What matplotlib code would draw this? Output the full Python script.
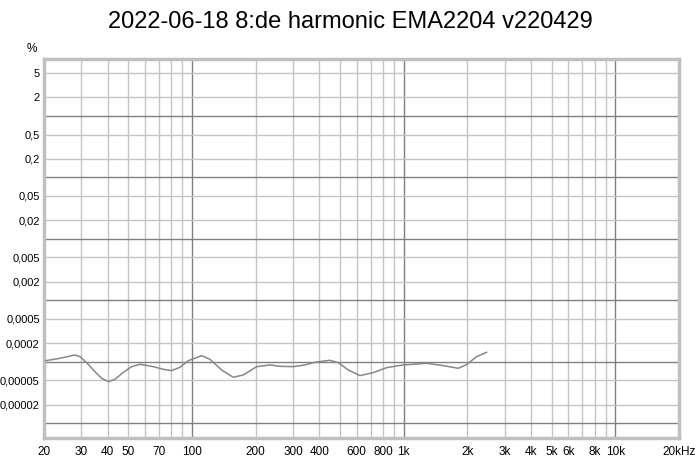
import numpy as np
import matplotlib
matplotlib.use("Agg")
import matplotlib.pyplot as plt

plt.rcParams['font.family'] = ['Liberation Sans', 'DejaVu Sans']

title = "2022-06-18 8:de harmonic EMA2204 v220429"

# curve: frequency (Hz) and distortion (%)
freq = [20.4, 23.8, 28.0, 29.6, 31.8, 34.8, 37.4, 40.3, 43.3, 47.4,
        51.9, 56.8, 65.7, 73.2, 80.2, 87.8, 96.1, 111.1, 121.6, 138.1,
        156.8, 174.8, 202.1, 233.6, 260.4, 301.1, 335.7, 388.0, 448.6, 491.1,
        547.6, 621.9, 718.9, 831.3, 996, 1284, 1539, 1811, 1983, 2212, 2466]
dist = [1.05e-4, 1.147e-4, 1.30e-4, 1.22e-4, 0.975e-4, 0.697e-4, 0.543e-4, 0.479e-4, 0.523e-4, 0.679e-4,
        0.839e-4, 0.917e-4, 0.839e-4, 0.760e-4, 0.723e-4, 0.819e-4, 1.05e-4, 1.267e-4, 1.105e-4, 0.741e-4,
        0.563e-4, 0.615e-4, 0.839e-4, 0.894e-4, 0.850e-4, 0.839e-4, 0.883e-4, 1.0e-4, 1.064e-4, 0.975e-4,
        0.741e-4, 0.600e-4, 0.671e-4, 0.809e-4, 0.894e-4, 0.951e-4, 0.872e-4, 0.789e-4, 0.905e-4, 1.221e-4, 1.436e-4]

xticks = [20, 30, 40, 50, 70, 100, 200, 300, 400, 600, 800, 1000,
          2000, 3000, 4000, 5000, 6000, 8000, 10000, 20000]
xlabels = ["20", "30", "40", "50", "70", "100", "200", "300", "400", "600", "800", "1k",
           "2k", "3k", "4k", "5k", "6k", "8k", "10k", "20kHz"]
yticks = [5, 2, 0.5, 0.2, 0.05, 0.02, 0.005, 0.002, 0.0005, 0.0002, 0.00005, 0.00002]
ylabels = ["5", "2", "0,5", "0,2", "0,05", "0,02", "0,005", "0,002",
           "0,0005", "0,0002", "0,00005", "0,00002"]

fig = plt.figure(figsize=(7, 4.65), dpi=100)
ax = fig.add_axes([44 / 700, 1 - 438 / 465, 635 / 700, 379 / 465])
ax.set_xscale('log')
ax.set_yscale('log')
ax.set_xlim(20, 20000)
ax.set_ylim(5.8e-6, 8.45)

light = '#c4c4c4'
dark = '#808080'
# vertical grid
for dec in [10, 100, 1000, 10000]:
    for m in range(1, 10):
        f = dec * m
        if 20 < f < 20000:
            ax.axvline(f, color=dark if m == 1 else light, lw=1, zorder=1)
# horizontal grid
for e in range(-6, 1):
    d = 10.0 ** e
    ax.axhline(d, color=dark, lw=1, zorder=1)
    for m in [2, 5]:
        ax.axhline(d * m, color=light, lw=1, zorder=1)

ax.plot(freq, dist, color='#878787', lw=1.1, zorder=3)

ax.set_xticks(xticks)
ax.set_xticklabels(xlabels)
ax.set_yticks(yticks)
ax.set_yticklabels(ylabels)
ax.minorticks_off()
ax.tick_params(axis='both', length=0, colors='black')
ax.tick_params(axis='x', pad=6, labelsize=8.5)
ax.tick_params(axis='y', pad=3, labelsize=8)
for lbl in ax.get_yticklabels():
    lbl.set_bbox(dict(facecolor='white', edgecolor='none', pad=0))
    lbl.set_zorder(5)

for s in ax.spines.values():
    s.set_color('#c0c0c0')
    s.set_linewidth(2.5)

fig.text(32 / 700, 1 - 49 / 465, "%", fontsize=8.5, ha='center', va='center')
fig.text(0.5, 1 - 22 / 465, title, fontsize=17, ha='center', va='center')

fig.savefig("out.png", dpi=100)
